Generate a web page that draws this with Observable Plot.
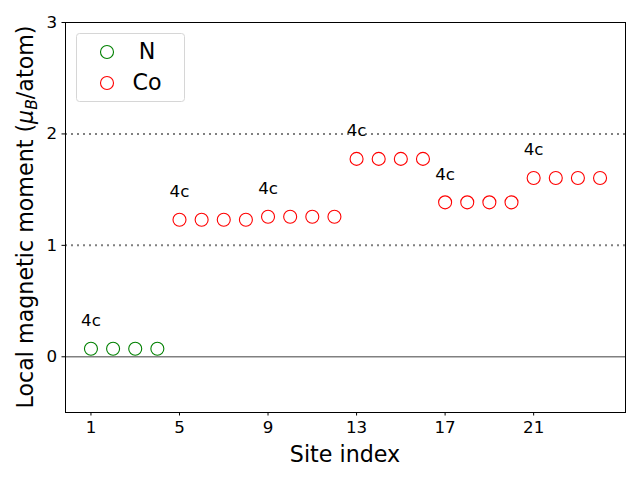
<!DOCTYPE html>
<html>
<head>
<meta charset="utf-8">
<script src="https://cdn.jsdelivr.net/npm/d3@7"></script>
<script src="https://cdn.jsdelivr.net/npm/@observablehq/plot@0.6"></script>
<style>
  body { margin: 0; background: #fff; }
  #wrap { width: 640px; height: 480px; font-family: "DejaVu Sans", sans-serif; }
</style>
</head>
<body>
<div id="wrap"></div>
<script>
// ---- data ----
const seriesNames = ["N", "Co"];
const seriesColors = ["#008000", "#ff0000"];
const nSites = [1, 2, 3, 4];
const nMoments = [0.072, 0.072, 0.072, 0.072];
const coSites = [5, 6, 7, 8, 9, 10, 11, 12, 13, 14, 15, 16, 17, 18, 19, 20, 21, 22, 23, 24];
const coMoments = [1.23, 1.23, 1.23, 1.23, 1.257, 1.257, 1.257, 1.257,
                   1.776, 1.776, 1.776, 1.776, 1.386, 1.386, 1.386, 1.386,
                   1.605, 1.605, 1.605, 1.605];
const wyckoffSites = [1, 5, 9, 13, 17, 21];
const wyckoffY = [0.322, 1.48, 1.507, 2.026, 1.636, 1.855];
const wyckoffLabels = ["4c", "4c", "4c", "4c", "4c", "4c"];
const xTicks = [1, 5, 9, 13, 17, 21];
const yTicks = [0, 1, 2, 3];
const solidRefs = [0];
const dottedRefs = [1, 2];
const xLabel = "Site index";

// ---- tables ----
const points = [
  ...nSites.map((s, i) => ({site: s, m: nMoments[i], series: seriesNames[0]})),
  ...coSites.map((s, i) => ({site: s, m: coMoments[i], series: seriesNames[1]}))
];
const labels = wyckoffSites.map((s, i) => ({site: s, y: wyckoffY[i], text: wyckoffLabels[i]}));

const W = 640, H = 480;
const mL = 65, mR = 15, mT = 22, mB = 68;

const chart = Plot.plot({
  width: W, height: H,
  marginLeft: mL, marginRight: mR, marginTop: mT, marginBottom: mB,
  style: {fontFamily: "DejaVu Sans, sans-serif", background: "#fff", color: "#000"},
  x: {domain: [-0.15, 25.15]},
  y: {domain: [-0.5, 3]},
  color: {domain: seriesNames, range: seriesColors},
  marks: [
    Plot.ruleY(solidRefs, {stroke: "#808080", strokeWidth: 1.6}),
    Plot.ruleY(dottedRefs, {stroke: "#808080", strokeWidth: 2, strokeDasharray: "2,4"}),
    Plot.dot(points, {x: "site", y: "m", stroke: "series", fill: "none", r: 6.5, strokeWidth: 1.1}),
    Plot.text(labels, {x: "site", y: "y", text: "text", fontSize: 16.7, textAnchor: "middle", lineAnchor: "middle", fill: "#000"}),
    Plot.axisX({ticks: xTicks, tickFormat: d => String(d), tickSize: 3.5, tickPadding: 5, fontSize: 16.7, label: null}),
    Plot.axisY({ticks: yTicks, tickFormat: d => String(d), tickSize: 3.5, tickPadding: 5, fontSize: 16.7, label: null}),
    Plot.frame({stroke: "#000", strokeWidth: 1})
  ]
});

document.getElementById("wrap").appendChild(chart);

// ---- axis titles ----
const svg = d3.select(chart);
svg.append("text")
  .attr("x", mL + (W - mL - mR) / 2).attr("y", 462)
  .attr("text-anchor", "middle")
  .attr("font-size", 22.2).attr("font-family", "DejaVu Sans, sans-serif")
  .attr("fill", "#000")
  .text(xLabel);

const yl = svg.append("text")
  .attr("transform", `translate(33,${mT + (H - mT - mB) / 2}) rotate(-90)`)
  .attr("text-anchor", "middle")
  .attr("font-size", 22.2).attr("font-family", "DejaVu Sans, sans-serif")
  .attr("fill", "#000");
yl.append("tspan").text("Local magnetic moment (");
yl.append("tspan").attr("font-style", "italic").text("\u03BC");
yl.append("tspan").attr("font-style", "italic").attr("font-size", 15.5).attr("dy", 4).text("B");
yl.append("tspan").attr("dy", -4).text("/atom)");

// ---- legend ----
const lg = svg.append("g");
lg.append("rect").attr("x", 76.5).attr("y", 33.5).attr("width", 108).attr("height", 68)
  .attr("rx", 3).attr("fill", "#fff").attr("fill-opacity", 0.8)
  .attr("stroke", "#d6d6d6").attr("stroke-width", 1);
seriesNames.forEach((name, i) => {
  const cy = 52 + i * 31;
  lg.append("circle").attr("cx", 107).attr("cy", cy).attr("r", 6.5)
    .attr("fill", "none").attr("stroke", seriesColors[i]).attr("stroke-width", 1.1);
  lg.append("text").attr("x", 147).attr("y", cy + 6.5)
    .attr("font-size", 22.2).attr("font-family", "DejaVu Sans, sans-serif")
    .attr("fill", "#000").text(name);
});
</script>
</body>
</html>
